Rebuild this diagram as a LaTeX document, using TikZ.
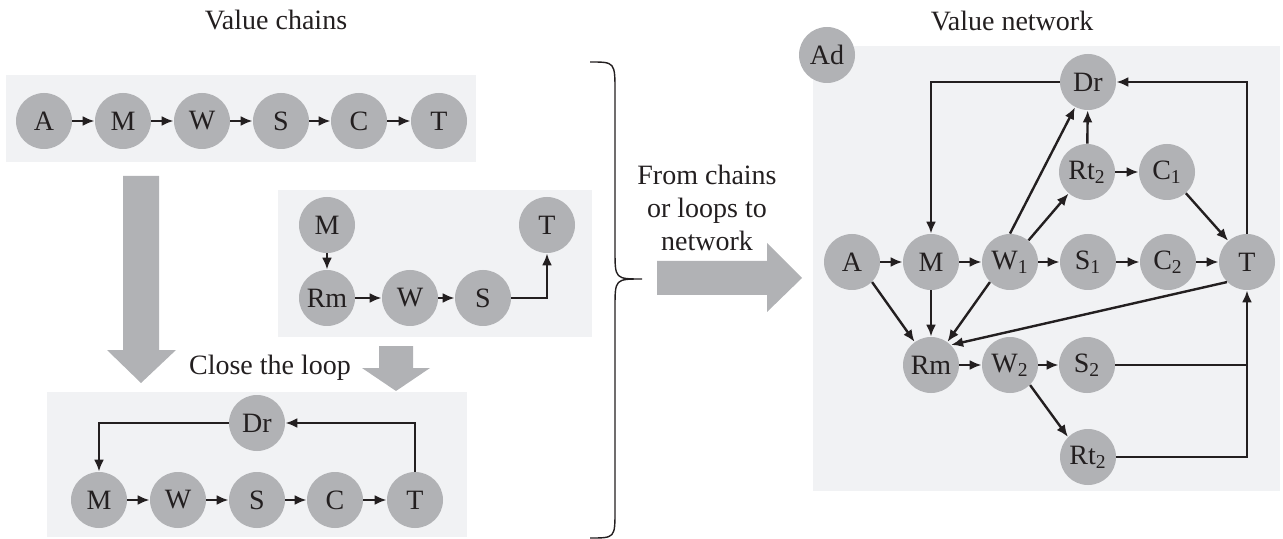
\documentclass[tikz,border=0pt]{standalone}
\usepackage{fontspec}
\setmainfont{Liberation Serif}
\usetikzlibrary{arrows.meta}
\definecolor{nodegray}{HTML}{B1B2B5}
\definecolor{panel}{HTML}{F1F2F4}
\definecolor{ink}{HTML}{231F20}
\begin{document}
\begin{tikzpicture}[x=0.5pt,y=-0.5pt,
  actor/.style={circle, fill=nodegray, minimum size=28pt, inner sep=0pt,
    text=ink, font=\fontsize{14}{16}\selectfont},
  flow/.style={draw=ink, line width=1.2pt, -{Latex[length=6pt,width=5pt]}},
  link/.style={draw=ink, line width=1.2pt},
  bigarrow/.style={fill=nodegray},
  heading/.style={text=ink, font=\fontsize{14}{16.5}\selectfont}]
\useasboundingbox (0,0) rectangle (1283,539);

% background panels
\fill[panel] (6,75) rectangle (476,162);
\fill[panel] (278,190) rectangle (592,337);
\fill[panel] (47,392) rectangle (467,537);
\fill[panel] (813,46) rectangle (1280,491);

% headings
\node[heading] (hchains) at (276,20) {Value chains};
\node[heading] (hnet) at (1012,21) {Value network};
\node[heading] (hloop) at (270,368) {Close the loop};
\node[heading, align=center] (hfrom) at (707,208) {From chains\\or loops to\\network};

% linear chain
\node[actor] (c-A) at (44,121) {A};
\node[actor] (c-M) at (123,121) {M};
\node[actor] (c-W) at (202,121) {W};
\node[actor] (c-S) at (281,121) {S};
\node[actor] (c-C) at (359,121) {C};
\node[actor] (c-T) at (439,121) {T};
\draw[flow] (c-A) -- (c-M);
\draw[flow] (c-M) -- (c-W);
\draw[flow] (c-W) -- (c-S);
\draw[flow] (c-S) -- (c-C);
\draw[flow] (c-C) -- (c-T);

% chain with remanufacturing
\node[actor] (m-M) at (327,225) {M};
\node[actor] (m-T) at (547,225) {T};
\node[actor] (m-Rm) at (327,298) {Rm};
\node[actor] (m-W) at (410,298) {W};
\node[actor] (m-S) at (483,298) {S};
\draw[flow] (m-M) -- (m-Rm);
\draw[flow] (m-Rm) -- (m-W);
\draw[flow] (m-W) -- (m-S);
\draw[flow] (m-S.east) -| (m-T.south);

% closed loop
\node[actor] (b-Dr) at (257,423) {Dr};
\node[actor] (b-M) at (99,500) {M};
\node[actor] (b-W) at (178,500) {W};
\node[actor] (b-S) at (257,500) {S};
\node[actor] (b-C) at (335,500) {C};
\node[actor] (b-T) at (415,500) {T};
\draw[flow] (b-M) -- (b-W);
\draw[flow] (b-W) -- (b-S);
\draw[flow] (b-S) -- (b-C);
\draw[flow] (b-C) -- (b-T);
\draw[flow] (b-Dr.west) -| (b-M.north);
\draw[flow] (b-T.north) |- (b-Dr.east);

% block arrows
\fill[bigarrow] (123,176) -- (159,176) -- (159,350) -- (176,350) -- (141,383)
  -- (107,350) -- (123,350) -- cycle;
\fill[bigarrow] (379,346) -- (413,346) -- (413,368) -- (430,368) -- (396,391)
  -- (362,368) -- (379,368) -- cycle;
\fill[bigarrow] (657,261) -- (767,261) -- (767,243) -- (802,278) -- (767,312)
  -- (767,295) -- (657,295) -- cycle;

% curly brace
\draw[ink, line width=0.7pt] (590,62) .. controls (615,62) .. (615,92) -- (615,250)
  .. controls (615,279) .. (642,279) .. controls (615,279) .. (615,308) -- (615,510)
  .. controls (615,538) .. (590,538);

% value network
\node[actor] (n-Ad) at (827,55) {Ad};
\node[actor] (n-Dr) at (1088,82) {Dr};
\node[actor] (n-Rt2a) at (1087,172) {Rt\textsubscript{2}};
\node[actor] (n-C1) at (1167,172) {C\textsubscript{1}};
\node[actor] (n-A) at (852,262) {A};
\node[actor] (n-M) at (931,262) {M};
\node[actor] (n-W1) at (1010,262) {W\textsubscript{1}};
\node[actor] (n-S1) at (1088,262) {S\textsubscript{1}};
\node[actor] (n-C2) at (1168,262) {C\textsubscript{2}};
\node[actor] (n-T) at (1247,262) {T};
\node[actor] (n-Rm) at (931,365) {Rm};
\node[actor] (n-W2) at (1010,365) {W\textsubscript{2}};
\node[actor] (n-S2) at (1087,365) {S\textsubscript{2}};
\node[actor] (n-Rt2b) at (1088,457) {Rt\textsubscript{2}};

\draw[flow] (n-A) -- (n-M);
\draw[flow] (n-M) -- (n-W1);
\draw[flow] (n-W1) -- (n-S1);
\draw[flow] (n-S1) -- (n-C2);
\draw[flow] (n-C2) -- (n-T);
\draw[flow] (n-Dr.west) -| (n-M.north);
\draw[flow] (n-T.north) |- (n-Dr.east);
\draw[flow] (n-W1.north) -- (n-Dr);
\draw[flow] (n-W1) -- (n-Rt2a);
\draw[flow] (n-Rt2a) -- (n-Dr);
\draw[flow] (n-Rt2a) -- (n-C1);
\draw[flow] (n-C1) -- (n-T);
\draw[flow] (n-A.south east) -- (n-Rm);
\draw[flow] (n-M) -- (n-Rm);
\draw[flow] (n-W1.south west) -- (n-Rm);
\draw[flow] (n-T.south west) -- (n-Rm.north east);
\draw[flow] (n-Rm) -- (n-W2);
\draw[flow] (n-W2) -- (n-S2);
\draw[flow] (n-W2.south east) -- (n-Rt2b.north west);
\draw[link] (n-S2.east) -- (n-S2.east -| n-T.south);
\draw[flow] (n-Rt2b.east) -| (n-T.south);
\end{tikzpicture}
\end{document}
